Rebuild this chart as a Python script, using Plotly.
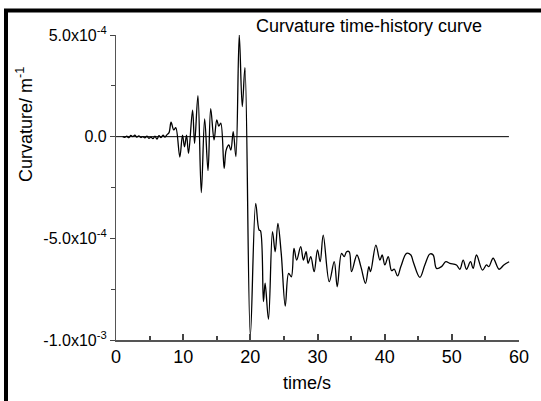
import plotly.graph_objects as go

# time (s) and curvature (x1e-4 1/m)
noise_t = [1.0, 1.3, 1.6, 1.9, 2.2, 2.5, 2.8, 3.1, 3.4, 3.7, 4.0, 4.3, 4.6, 4.9,
           5.2, 5.5, 5.8, 6.1, 6.4, 6.7, 7.0, 7.3, 7.6, 7.9]
noise_v = [0.0, -0.03, 0.02, -0.05, 0.06, 0.0, 0.08, -0.02, 0.04, -0.04, 0.0, -0.06,
           0.02, -0.08, -0.02, -0.1, 0.02, -0.12, 0.05, -0.04, 0.08, -0.02, 0.1, 0.2]

main_t = [8.2, 8.6, 8.9, 9.5, 9.9, 10.2, 10.5, 10.8, 11.4, 11.7, 12.2, 12.7, 13.2, 13.7,
          14.1, 14.6, 15.0, 15.3, 15.6, 16.1, 16.4, 16.8, 17.1, 17.45, 17.85, 18.35, 18.8,
          19.2, 20.0, 20.8, 21.3, 21.5, 21.95, 22.2, 22.7, 23.3, 23.7, 24.1, 24.6, 25.2,
          25.7, 26.1, 26.5, 26.9, 27.5, 27.9, 28.3, 28.6, 29.0, 29.5, 30.0, 30.4,
          30.85, 31.75, 32.49, 32.94, 33.58, 33.98, 34.33, 34.72, 35.07, 35.87, 36.46,
          37.15, 37.65, 37.9, 38.69, 39.29, 39.63, 40.03, 40.53, 41.03, 41.42, 41.92,
          42.41, 43.26, 43.9, 44.25, 45.24, 45.98, 46.73, 47.22, 47.72, 48.46, 49.11,
          49.7, 50.69, 51.19, 51.69, 52.18, 52.78, 53.17, 53.67, 54.56, 55.16, 55.51,
          56.15, 57.04, 57.74, 58.53]
main_v = [0.71, 0.33, 0.44, -1.0, 0.08, -0.5, 0.08, -0.82, 1.31, -0.33, 2.02, -2.75, 0.87,
          -1.67, 1.38, -0.16, 0.82, 0.52, 0.66, -1.56, -0.66, -0.41, -0.66, 0.25, -0.98,
          5.0, 1.48, 3.39, -9.8, -3.28, -4.59, -4.62, -8.11, -7.21, -8.98, -4.67, -5.66,
          -4.26, -5.74, -8.33, -6.72, -6.89, -5.49, -6.07, -5.41, -6.07, -5.66, -6.23,
          -5.90, -6.64, -5.57, -6.15,
          -4.84, -7.13, -6.15, -7.38, -5.74, -5.90, -5.66, -5.66, -6.64, -5.82, -6.39,
          -7.21, -6.39, -6.64, -5.33, -6.07, -5.82, -6.31, -5.90, -6.59, -6.52, -6.85,
          -6.39, -5.74, -5.82, -6.15, -6.92, -6.31, -5.77, -5.82, -6.48, -6.39, -6.15,
          -6.23, -6.31, -6.52, -6.07, -6.52, -6.15, -6.48, -5.82, -6.56, -6.31, -6.39,
          -5.98, -6.52, -6.31, -6.15]

zero_t = [0, 58.5]
zero_v = [0, 0]

y_tickvals = [5e-4, 0.0, -5e-4, -1e-3]
y_ticktext = ["5.0x10<sup>-4</sup>", "0.0", "-5.0x10<sup>-4</sup>", "-1.0x10<sup>-3</sup>"]
x_tickvals = [0, 10, 20, 30, 40, 50, 60]

t_all = noise_t + main_t
v_all = [v * 1e-4 for v in noise_v + main_v]

FONT = "Liberation Sans, Arial, sans-serif"

fig = go.Figure()
fig.add_trace(go.Scatter(x=zero_t, y=zero_v, mode="lines",
                         line=dict(color="black", width=1), showlegend=False))
fig.add_trace(go.Scatter(x=t_all, y=v_all, mode="lines",
                         line=dict(color="black", width=1.3, shape="spline", smoothing=1.0),
                         showlegend=False))

L, R, T, B = 116, 22, 35, 61
W, H = 541, 401
pw, ph = W - L - R, H - T - B

def px(x):
    return (x - L) / pw

def py(y):
    return (H - B - y) / ph

fig.update_layout(
    width=W, height=H,
    margin=dict(l=L, r=R, t=T, b=B, pad=0),
    paper_bgcolor="white", plot_bgcolor="white",
    font=dict(family=FONT, size=17, color="black"),
    xaxis=dict(range=[0, 60], tickvals=x_tickvals, ticks="inside", ticklen=6,
               tickcolor="#444", tickwidth=1.5, showline=True, linecolor="#555",
               linewidth=1.5, showgrid=False, zeroline=False,
               minor=dict(dtick=5, tick0=0, ticks="inside", ticklen=4, tickcolor="#444"),
               tickfont=dict(size=18)),
    yaxis=dict(range=[-1e-3, 5e-4], tickvals=y_tickvals, ticktext=y_ticktext,
               ticks="outside", ticklen=5, tickcolor="#444", showline=True,
               linecolor="#555", linewidth=1.2, showgrid=False, zeroline=False,
               minor=dict(tickvals=[2.5e-4, -2.5e-4, -7.5e-4], ticks="outside",
                          ticklen=4, tickcolor="#444"),
               tickfont=dict(size=16)),
    annotations=[
        dict(text="Curvature time-history curve", x=px(369), y=py(26), xref="paper",
             yref="paper", showarrow=False, xanchor="center", yanchor="middle",
             font=dict(size=18)),
        dict(text="Curvature/ m<sup>-1</sup>", x=px(24), y=py(125), xref="paper",
             yref="paper", showarrow=False, xanchor="center", yanchor="middle",
             textangle=-90, font=dict(size=18)),
        dict(text="time/s", x=px(307), y=py(383), xref="paper", yref="paper",
             showarrow=False, xanchor="center", yanchor="middle", font=dict(size=18)),
    ],
    shapes=[
        dict(type="path", xref="paper", yref="paper",
             path=f"M {px(6)},{py(405)} L {px(6)},{py(10.5)} L {px(545)},{py(10.5)}",
             line=dict(color="black", width=4)),
    ],
)

fig.write_html("out.html")
